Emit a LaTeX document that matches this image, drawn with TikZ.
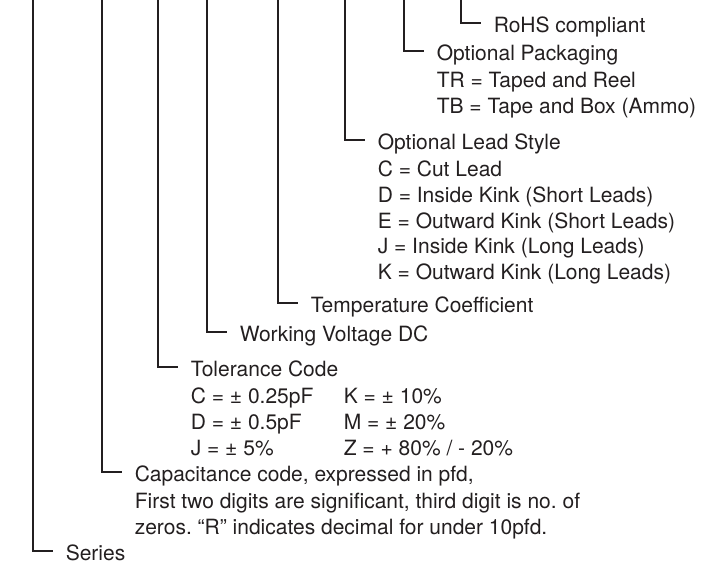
\documentclass[tikz,border=0pt]{standalone}
\usepackage{fontspec}
\setmainfont{TeX Gyre Heros}
\frenchspacing
\usetikzlibrary{positioning}
\definecolor{cink}{HTML}{231F20}
\tikzset{
  every picture/.style={line width=0.8pt},
  lbl/.style={anchor=west, inner xsep=6pt, inner ysep=0pt, text height=11.55pt, text depth=2.1pt,
    text=cink, font=\fontsize{10.5}{12.85}\selectfont},
  vals/.style={anchor=north west, align=left, inner xsep=6pt, inner ysep=0pt,
    text=cink, font=\fontsize{10.5}{12.85}\selectfont},
  bar/.style={draw=cink, line width=0.8pt},
}

\begin{document}
\begin{tikzpicture}[x=0.5pt, y=-0.5pt]
  \useasboundingbox (0,0) rectangle (707,567);

  % fields of the part number, right to left
  \node[lbl] (rohs) at (481,23)  {RoHS compliant};
  \node[lbl] (pack) at (424,51)  {Optional Packaging};
  \node[vals, below=1.75pt of pack.south west, anchor=north west] (packv)
    {\strut TR = Taped and Reel\\TB = Tape and Box (Ammo)};
  \node[lbl] (lead) at (365,140) {Optional Lead Style};
  \node[vals, below=1.75pt of lead.south west, anchor=north west] (leadv)
    {\strut C = Cut Lead\\D = Inside Kink (Short Leads)\\E = Outward Kink (Short Leads)\\
     J = Inside Kink (Long Leads)\\K = Outward Kink (Long Leads)};
  \node[lbl] (temp) at (298,303) {Temperature Coefficient};
  \node[lbl] (volt) at (227,332) {Working Voltage DC};
  \node[lbl] (tol)  at (178,367) {Tolerance Code};
  \node[vals, below=1.75pt of tol.south west, anchor=north west] (tolv)
    {\strut\makebox[76.5pt][l]{C = ± 0.25pF}K = ± 10\%\\
     \makebox[76.5pt][l]{D = ± 0.5pF}M = ± 20\%\\
     \makebox[76.5pt][l]{J = ± 5\%}Z = + 80\% / - 20\%};
  \node[lbl] (cap)  at (122,472) {Capacitance code, expressed in pfd,};
  \node[vals, below=1.75pt of cap.south west, anchor=north west] (capv)
    {\strut First two digits are significant, third digit is no. of\\
     zeros. “R” indicates decimal for under 10pfd.};
  \node[lbl] (ser)  at (53,551)  {Series};

  % brackets from the code down to each field
  \foreach \n/\x in {rohs/461, pack/404, lead/345, temp/278, volt/207, tol/158, cap/102, ser/33} {
    \coordinate (\n-top) at (\x,0);
    \draw[bar] (\n-top) |- (\n.west);
  }
\end{tikzpicture}
\end{document}
